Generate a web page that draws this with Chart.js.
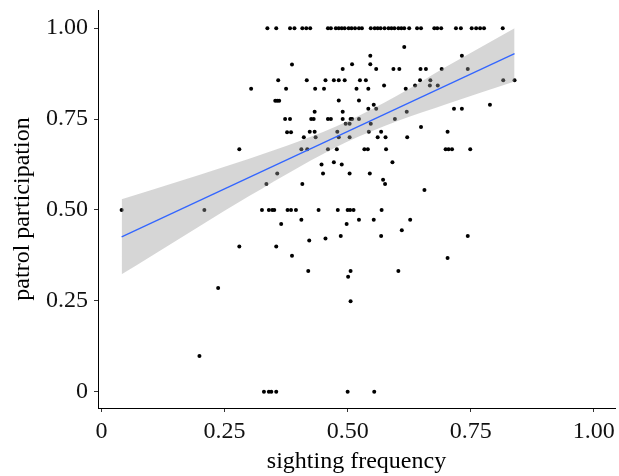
<!DOCTYPE html>
<html>
<head>
<meta charset="utf-8">
<script src="https://cdn.jsdelivr.net/npm/chart.js@4/dist/chart.umd.min.js"></script>
<style>
    html, body { margin: 0; padding: 0; background: #fff; }
    #wrap { width: 619px; height: 476px; }
</style>
</head>
<body>
<div id="wrap"><canvas id="grafica"></canvas></div>
<script>
// puntos: frecuencia de avistamiento (x) y participacion en patrullas (y)
const topX = [0.337, 0.355, 0.383, 0.392, 0.408, 0.416, 0.424, 0.460, 0.466, 0.476, 0.482, 0.488, 0.494, 0.502,
    0.508, 0.515, 0.523, 0.529, 0.547, 0.555, 0.561, 0.567, 0.575, 0.583, 0.589, 0.595, 0.603, 0.609, 0.615,
    0.625, 0.641, 0.649, 0.676, 0.682, 0.690, 0.720, 0.730, 0.752, 0.761, 0.769, 0.777, 0.815];

const restX = [0.387, 0.359, 0.417, 0.304, 0.375, 0.353, 0.357, 0.361, 0.373, 0.383, 0.377, 0.385, 0.411, 0.280,
    0.406, 0.418, 0.615, 0.546, 0.732, 0.509, 0.546, 0.490, 0.558, 0.593, 0.605, 0.648, 0.659, 0.691, 0.744,
    0.455, 0.472, 0.482, 0.494, 0.525, 0.537, 0.647, 0.668, 0.816, 0.839, 0.434, 0.452, 0.518, 0.542, 0.574,
    0.618, 0.637, 0.667, 0.683, 0.482, 0.523, 0.433, 0.490, 0.553, 0.542, 0.558, 0.620, 0.716, 0.732, 0.789,
    0.426, 0.431, 0.460, 0.466, 0.490, 0.506, 0.509, 0.523, 0.596, 0.496, 0.504, 0.547, 0.649, 0.423, 0.433,
    0.479, 0.543, 0.568, 0.703, 0.435, 0.482, 0.504, 0.561, 0.577, 0.621,
    0.460, 0.478, 0.534, 0.541, 0.578, 0.699, 0.705, 0.712, 0.749,
    0.447, 0.472, 0.488, 0.591, 0.450, 0.504, 0.545, 0.572, 0.576, 0.408, 0.656, 0.441, 0.480, 0.500, 0.505,
    0.512, 0.569, 0.406, 0.523, 0.553, 0.627, 0.498, 0.610, 0.422, 0.455, 0.486, 0.568, 0.744, 0.703, 0.420,
    0.506, 0.603, 0.501, 0.041, 0.209, 0.357, 0.335, 0.326, 0.340, 0.347, 0.351, 0.378, 0.385, 0.395, 0.365,
    0.280, 0.355, 0.387, 0.237, 0.506, 0.199, 0.330, 0.340, 0.345, 0.355, 0.500, 0.554];

const restY = [0.900, 0.857, 0.857, 0.833, 0.833, 0.800, 0.800, 0.800, 0.750, 0.750, 0.714, 0.714, 0.700, 0.667,
    0.667, 0.667, 0.948, 0.924, 0.924, 0.901, 0.901, 0.888, 0.888, 0.888, 0.888, 0.888, 0.888, 0.888, 0.888,
    0.857, 0.857, 0.857, 0.857, 0.857, 0.857, 0.857, 0.857, 0.857, 0.857, 0.833, 0.833, 0.833, 0.833, 0.842,
    0.833, 0.842, 0.842, 0.842, 0.801, 0.801, 0.770, 0.770, 0.789, 0.778, 0.778, 0.770, 0.778, 0.778, 0.789,
    0.750, 0.750, 0.750, 0.750, 0.750, 0.750, 0.750, 0.750, 0.750, 0.737, 0.737, 0.737, 0.728, 0.715, 0.715,
    0.715, 0.715, 0.715, 0.715, 0.700, 0.700, 0.700, 0.700, 0.700, 0.700,
    0.667, 0.667, 0.667, 0.667, 0.667, 0.667, 0.667, 0.667, 0.667,
    0.625, 0.631, 0.625, 0.631, 0.600, 0.600, 0.600, 0.583, 0.571, 0.571, 0.555, 0.500, 0.500, 0.500, 0.500,
    0.500, 0.500, 0.473, 0.473, 0.473, 0.473, 0.461, 0.444, 0.416, 0.421, 0.428, 0.428, 0.428, 0.368, 0.332,
    0.332, 0.332, 0.316, 0.500, 0.500, 0.600, 0.571, 0.500, 0.500, 0.500, 0.500, 0.500, 0.500, 0.500, 0.461,
    0.399, 0.399, 0.374, 0.285, 0.249, 0.098, 0, 0, 0, 0, 0, 0];

// recta de regresion y banda de confianza
const fitX = [0.041, 0.839];
const fitY = [0.426, 0.930];
const bandX = [0.041, 0.1, 0.2, 0.3, 0.4, 0.5, 0.6, 0.7, 0.839];
const bandUpper = [0.529, 0.554, 0.597, 0.641, 0.688, 0.744, 0.814, 0.894, 1.0];
const bandLower = [0.323, 0.372, 0.456, 0.538, 0.617, 0.688, 0.744, 0.791, 0.853];

// marcas de los ejes
const xTickVals = [0, 0.25, 0.5, 0.75, 1];
const xTickLabels = ['0', '0.25', '0.50', '0.75', '1.00'];
const yTickVals = [0, 0.25, 0.5, 0.75, 1];
const yTickLabels = ['0', '0.25', '0.50', '0.75', '1.00'];

const puntos = [];
topX.forEach(x => puntos.push({ x: x, y: 1 }));
restX.forEach((x, i) => puntos.push({ x: x, y: restY[i] }));

const linea = fitX.map((x, i) => ({ x: x, y: fitY[i] }));
const arriba = bandX.map((x, i) => ({ x: x, y: bandUpper[i] }));
const abajo = bandX.map((x, i) => ({ x: x, y: bandLower[i] }));

const fuente = 'Liberation Serif, Times New Roman, serif';

function ejeComun(vals, labels, titulo) {
    return {
        type: 'linear',
        afterBuildTicks: (scale) => { scale.ticks = vals.map(v => ({ value: v })); },
        ticks: {
            color: '#111',
            font: { family: fuente, size: 24 },
            callback: (v) => {
                const i = vals.indexOf(v);
                return i >= 0 ? labels[i] : '';
            }
        },
        grid: { drawOnChartArea: false, drawTicks: true, tickLength: 4, color: '#333', tickWidth: 1 },
        border: { display: true, color: '#000', width: 1 },
        title: { display: true, text: titulo, color: '#000', font: { family: fuente, size: 24 } }
    };
}

// sin relleno extra de las etiquetas para fijar el area del grafico
function sinRelleno(scale) {
    scale.paddingTop = 0;
    scale.paddingBottom = 0;
    scale.paddingLeft = 0;
    scale.paddingRight = 0;
}

const ejeX = ejeComun(xTickVals, xTickLabels, 'sighting frequency');
ejeX.min = -0.007;
ejeX.max = 1.043;
ejeX.ticks.padding = 5;
ejeX.title.padding = { top: 0, bottom: 0 };
ejeX.afterFit = (scale) => { scale.height = 68; sinRelleno(scale); };

const ejeY = ejeComun(yTickVals, yTickLabels, 'patrol participation');
ejeY.min = -0.045;
ejeY.max = 1.05;
ejeY.ticks.padding = 6;
ejeY.title.padding = { top: 8, bottom: 0 };
ejeY.afterFit = (scale) => { scale.width = 98; sinRelleno(scale); };

new Chart(document.getElementById('grafica'), {
    type: 'scatter',
    data: {
        datasets: [
            {
                type: 'line',
                data: linea,
                borderColor: '#3366FF',
                borderWidth: 1.3,
                pointRadius: 0,
                fill: false,
                order: 0
            },
            {
                type: 'line',
                data: arriba,
                borderWidth: 0,
                borderColor: 'rgba(0,0,0,0)',
                backgroundColor: 'rgba(153,153,153,0.4)',
                pointRadius: 0,
                cubicInterpolationMode: 'monotone',
                fill: '+1',
                order: 1
            },
            {
                type: 'line',
                data: abajo,
                borderWidth: 0,
                borderColor: 'rgba(0,0,0,0)',
                pointRadius: 0,
                cubicInterpolationMode: 'monotone',
                fill: false,
                order: 1
            },
            {
                data: puntos,
                backgroundColor: '#000',
                borderWidth: 0,
                pointRadius: 2,
                order: 2
            }
        ]
    },
    options: {
        responsive: true,
        maintainAspectRatio: false,
        animation: false,
        layout: { padding: { top: 10, right: 0, bottom: 0, left: 0 } },
        plugins: {
            legend: { display: false },
            tooltip: { enabled: false }
        },
        scales: { x: ejeX, y: ejeY }
    }
});
</script>
</body>
</html>
